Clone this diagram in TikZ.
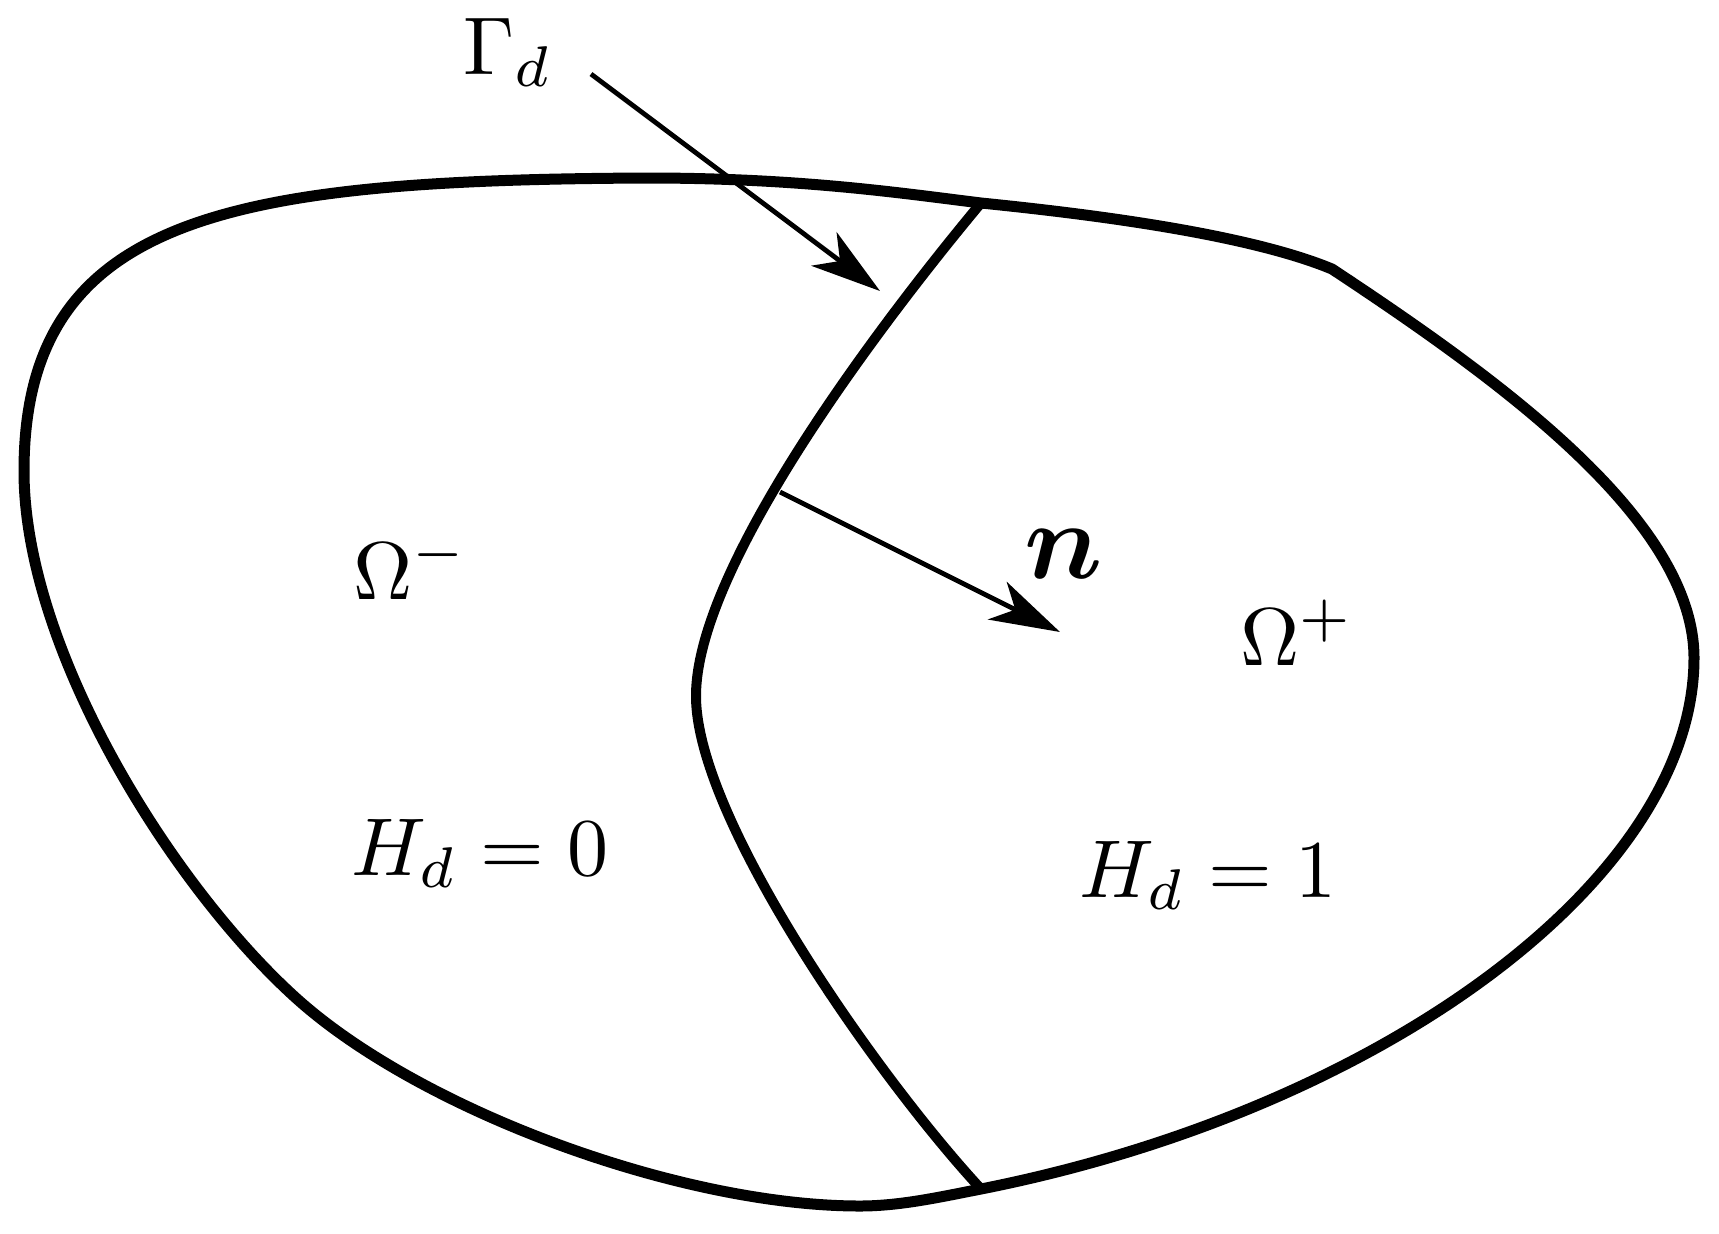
\documentclass[tikz,border=0pt]{standalone}
\usepackage{amsmath,bm}
\usetikzlibrary{arrows.meta}
\begin{document}
\begin{tikzpicture}[x=0.5pt,y=-0.5pt,
  boundary/.style={line width=5.5pt, line join=round},
  interface/.style={line width=5pt},
  pointer/.style={line width=2.4pt, -{Stealth[length=35pt,width=21pt,inset=10pt]}},
  lbl/.style={inner sep=0pt, anchor=base west, scale=4.1, transform shape},
  bigl/.style={inner sep=0pt, anchor=base west, scale=5.5, transform shape}]
\useasboundingbox (0,0) rectangle (1719,1233);
% key points
\coordinate (A) at (24,471);
\coordinate (B) at (647,178);
\coordinate (J1) at (981,203);
\coordinate (C) at (1332,269);
\coordinate (D) at (1694,658);
\coordinate (J2) at (981,1189);
\coordinate (E) at (860,1206);
\coordinate (F) at (296,998);
\coordinate (L) at (696,696);
% outer domain
\draw[boundary] (A) .. controls (24,215) and (230,180) .. (B)
  .. controls (800,178) and (900,193) .. (J1)
  .. controls (1100,215) and (1250,235) .. (C)
  .. controls (1500,380) and (1694,520) .. (D)
  .. controls (1694,880) and (1380,1110) .. (J2)
  .. controls (940,1197) and (900,1206) .. (E)
  .. controls (680,1206) and (420,1110) .. (F)
  .. controls (172,886) and (24,650) .. (A) -- cycle;
% interface Gamma_d
\draw[interface] (J1) .. controls (900,300) and (696,560) .. (L)
  .. controls (696,820) and (880,1080) .. (J2);
% labels
\node[lbl] (gam) at (462,74) {$\Gamma_d$};
\node[lbl] (om) at (352,599) {$\Omega^-$};
\node[lbl] (op) at (1239,665) {$\Omega^+$};
\node[lbl] (h0) at (350,875) {$H_d=0$};
\node[lbl] (h1) at (1078,897) {$H_d=1$};
\node[bigl] (nn) at (1022,578) {$\bm{n}$};
% arrows
\coordinate (ga) at (591,74);
\coordinate (gb) at (880,291);
\coordinate (na) at (780,492);
\coordinate (nb) at (1060,632);
\draw[pointer] (ga) -- (gb);
\draw[pointer] (na) -- (nb);
\end{tikzpicture}
\end{document}
